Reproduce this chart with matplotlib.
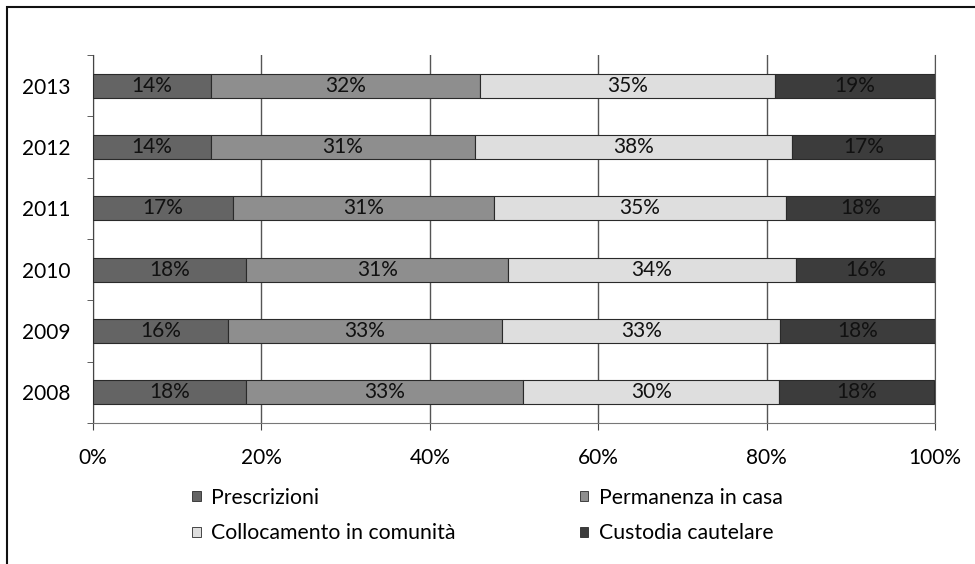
import matplotlib.pyplot as plt
from matplotlib.patches import Rectangle, Patch
import numpy as np

plt.rcParams['font.family'] = ['Lato', 'DejaVu Sans']

anni = ['2008', '2009', '2010', '2011', '2012', '2013']
prescrizioni = [18.2, 16.0, 18.2, 16.6, 14.0, 14.0]
permanenza = [32.9, 32.6, 31.1, 31.0, 31.4, 32.0]
collocamento = [30.4, 33.0, 34.2, 34.7, 37.6, 35.0]
custodia = [18.4, 18.4, 16.5, 17.7, 17.0, 19.0]

serie = ['Prescrizioni', 'Permanenza in casa', 'Collocamento in comunità', 'Custodia cautelare']
colori = ['#646464', '#8e8e8e', '#dedede', '#3c3c3c']

fig = plt.figure(figsize=(9.75, 5.64), dpi=100)
ax = fig.add_axes([93/975, 1 - 423/564, (935 - 93)/975, (423 - 55)/564])

y = np.arange(len(anni))
left = np.zeros(len(anni))
handles = []
for nome, vals, col in zip(serie, [prescrizioni, permanenza, collocamento, custodia], colori):
    vals = np.array(vals)
    ax.barh(y, vals, left=left, height=0.39, color=col, edgecolor='#2a2a2a',
            linewidth=0.8, zorder=3)
    for yi, l, v in zip(y, left, vals):
        ax.text(l + v / 2, yi, f'{v:.0f}%', ha='center', va='center',
                fontsize=15, color='#111111', zorder=4)
    left += vals
    handles.append(Patch(facecolor=col, edgecolor='#2a2a2a', linewidth=0.6, label=nome))

ax.set_xlim(0, 100)
ax.set_ylim(-0.5, len(anni) - 0.5)
ax.set_xticks(np.arange(0, 101, 20))
ax.set_xticklabels([f'{t}%' for t in range(0, 101, 20)], fontsize=15)
ax.set_yticks(y)
ax.set_yticklabels(anni, fontsize=15)
ax.set_yticks(np.arange(-0.5, len(anni)), minor=True)
ax.tick_params(axis='y', which='major', length=0, pad=16)
ax.tick_params(axis='y', which='minor', length=4, color='#444444')
ax.tick_params(axis='x', length=5, color='#444444', pad=13)

ax.grid(axis='x', color='#555555', linewidth=1, zorder=0)
ax.spines['top'].set_visible(False)
ax.spines['right'].set_color('#555555')
ax.spines['left'].set_color('#444444')
ax.spines['bottom'].set_color('#777777')

# legend in two columns under the axis
order = [0, 2, 1, 3]
fig.legend([handles[i] for i in order], [serie[i] for i in order], ncol=2,
           loc='center left', bbox_to_anchor=(192/975, 1 - 515.5/564), frameon=False,
           fontsize=15.3, handlelength=0.4, handleheight=0.4, handletextpad=0.5,
           columnspacing=5.85, labelspacing=0.75, borderpad=0, borderaxespad=0)

# outer frame
fig.patches.append(Rectangle((7/975, -0.1), 1.2, 1 - 7/564 + 0.1, transform=fig.transFigure,
                             fill=False, edgecolor='#111111', linewidth=1.5))

fig.savefig('out.png', dpi=100)
